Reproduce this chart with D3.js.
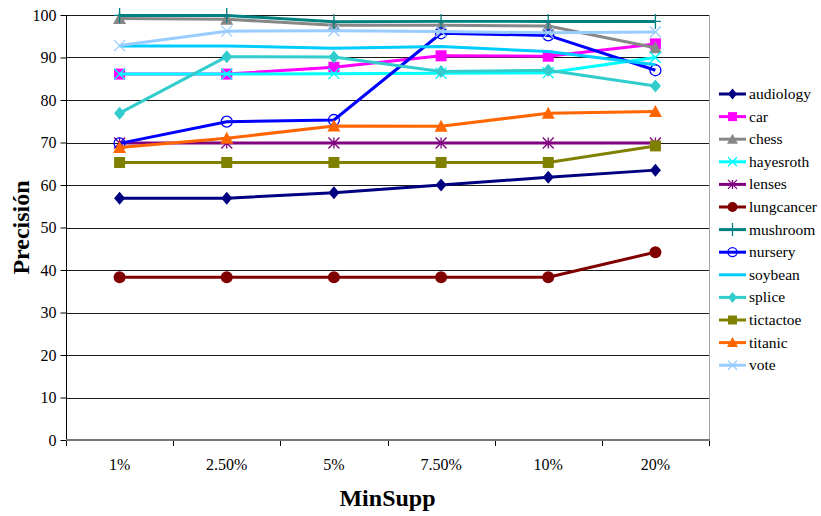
<!DOCTYPE html>
<html>
<head>
<meta charset="utf-8">
<script src="https://cdn.jsdelivr.net/npm/d3@7"></script>
<style>
  html, body { margin: 0; padding: 0; background: #fff; }
  svg { display: block; }
  text { font-family: "Liberation Serif", "Times New Roman", serif; fill: #000; }
</style>
</head>
<body>
<svg id="chart" width="821" height="516"></svg>
<script>
// Minimum support levels on the x axis
const categories = ["1%", "2.50%", "5%", "7.50%", "10%", "20%"];
const yTicks = [0, 10, 20, 30, 40, 50, 60, 70, 80, 90, 100];

// Precision per dataset
const audiology  = [56.9, 56.9, 58.2, 60.0, 61.8, 63.5];
const car        = [86.1, 86.1, 87.7, 90.4, 90.3, 93.2];
const chess      = [99.2, 99.0, 97.6, 97.6, 97.4, 92.3];
const hayesroth  = [86.1, 86.1, 86.2, 86.3, 86.4, 90.0];
const lenses     = [69.9, 69.9, 69.9, 69.9, 69.9, 69.9];
const lungcancer = [38.3, 38.3, 38.3, 38.3, 38.3, 44.2];
const mushroom   = [99.9, 99.9, 98.4, 98.5, 98.5, 98.5];
const nursery    = [69.8, 74.9, 75.3, 95.7, 95.2, 87.0];
const soybean    = [92.7, 92.7, 92.2, 92.6, 91.4, 88.3];
const splice     = [76.9, 90.2, 90.1, 86.7, 87.0, 83.3];
const tictactoe  = [65.3, 65.3, 65.3, 65.3, 65.3, 69.2];
const titanic    = [68.8, 71.0, 73.9, 73.8, 76.9, 77.3];
const vote       = [92.8, 96.2, 96.3, 96.1, 95.8, 96.0];

const seriesNames = ["audiology", "car", "chess", "hayesroth", "lenses", "lungcancer",
  "mushroom", "nursery", "soybean", "splice", "tictactoe", "titanic", "vote"];
const seriesValues = [audiology, car, chess, hayesroth, lenses, lungcancer,
  mushroom, nursery, soybean, splice, tictactoe, titanic, vote];
const seriesColors = ["#000080", "#ff00ff", "#878787", "#00ffff", "#800080", "#800000",
  "#008080", "#0000ff", "#00ccff", "#33cccc", "#808000", "#ff6600", "#99ccff"];
const seriesMarkers = ["diamond", "square", "triangle", "cross", "star", "dot",
  "plus", "ring", "none", "diamond", "square", "triangle", "cross"];

const series = seriesNames.map((name, i) => ({
  name, values: seriesValues[i], color: seriesColors[i], marker: seriesMarkers[i]
}));

const svg = d3.select("#chart");
const plot = { left: 66, right: 709, top: 15, bottom: 440 };

const x = d3.scaleBand().domain(categories).range([plot.left, plot.right]).padding(0);
const y = d3.scaleLinear().domain([0, 100]).range([plot.bottom, plot.top]);
const cx = c => x(c) + x.bandwidth() / 2;

// Horizontal gridlines
svg.append("g")
  .selectAll("line")
  .data(yTicks.filter(t => t > 0))
  .join("line")
  .attr("x1", plot.left).attr("x2", plot.right)
  .attr("y1", d => Math.round(y(d)) + 0.5).attr("y2", d => Math.round(y(d)) + 0.5)
  .attr("stroke", "#1a1a1a").attr("stroke-width", 1);

// Right border of the plot area
svg.append("line")
  .attr("x1", plot.right + 0.5).attr("x2", plot.right + 0.5)
  .attr("y1", plot.top).attr("y2", plot.bottom)
  .attr("stroke", "#a0a0a0").attr("stroke-width", 1);

// Y axis
const yAxis = svg.append("g")
  .attr("transform", `translate(${plot.left + 0.5},0)`)
  .call(d3.axisLeft(y).tickValues(yTicks).tickSize(6).tickPadding(4).tickFormat(d3.format("d")));
yAxis.select(".domain").attr("stroke", "#000").attr("d", `M0,${plot.top}V${plot.bottom}`);
yAxis.selectAll(".tick line").attr("stroke", "#000");
yAxis.selectAll(".tick text")
  .attr("font-family", "Liberation Serif, serif").attr("font-size", 16).attr("fill", "#000");

// X axis: tick marks on category boundaries
const xAxis = svg.append("g").attr("transform", `translate(0,${plot.bottom})`);
const boundaries = categories.map(c => x(c)).concat([plot.right]);
xAxis.selectAll("line.tk")
  .data(boundaries)
  .join("line")
  .attr("class", "tk")
  .attr("x1", d => Math.round(d) + 0.5).attr("x2", d => Math.round(d) + 0.5)
  .attr("y1", 0).attr("y2", 6)
  .attr("stroke", "#000").attr("stroke-width", 1);
xAxis.append("line")
  .attr("x1", plot.left).attr("x2", plot.right + 1)
  .attr("y1", 0).attr("y2", 0)
  .attr("stroke", "#777").attr("stroke-width", 2);
xAxis.selectAll("text")
  .data(categories)
  .join("text")
  .attr("x", d => cx(d)).attr("y", 30)
  .attr("text-anchor", "middle")
  .attr("font-size", 16)
  .text(d => d);

// Marker drawing
function drawMarker(g, type, color, s) {
  const h = s / 2;
  switch (type) {
    case "diamond":
      g.append("path").attr("d", `M0,${-h - 1}L${h},0L0,${h + 1}L${-h},0Z`).attr("fill", color);
      break;
    case "square":
      g.append("rect").attr("x", -h).attr("y", -h).attr("width", s).attr("height", s).attr("fill", color);
      break;
    case "triangle":
      g.append("path").attr("d", `M0,${-h - 1}L${h + 1},${h}L${-h - 1},${h}Z`).attr("fill", color);
      break;
    case "dot":
      g.append("circle").attr("r", h + 0.5).attr("fill", color);
      break;
    case "ring":
      g.append("circle").attr("r", h).attr("fill", "none").attr("stroke", color).attr("stroke-width", 1.3);
      break;
    case "cross":
      g.append("path").attr("d", `M${-h},${-h}L${h},${h}M${-h},${h}L${h},${-h}`)
        .attr("stroke", color).attr("stroke-width", 1.3).attr("fill", "none");
      break;
    case "star":
      g.append("path").attr("d", `M${-h},${-h}L${h},${h}M${-h},${h}L${h},${-h}M0,${-h}V${h}`)
        .attr("stroke", color).attr("stroke-width", 1.3).attr("fill", "none");
      break;
    case "plus":
      g.append("path").attr("d", `M0,${-h - 2}V${h + 2}M${-h},0H${h}`)
        .attr("stroke", color).attr("stroke-width", 1.3).attr("fill", "none");
      break;
  }
}

const line = d3.line().x((d, i) => cx(categories[i])).y(d => y(d));

// Series lines and markers
const gSeries = svg.append("g");
series.forEach(s => {
  const g = gSeries.append("g");
  g.append("path")
    .attr("d", line(s.values))
    .attr("fill", "none")
    .attr("stroke", s.color)
    .attr("stroke-width", 3)
    .attr("stroke-linejoin", "round");
  if (s.marker !== "none") {
    s.values.forEach((v, i) => {
      const mg = g.append("g").attr("transform", `translate(${cx(categories[i])},${y(v)})`);
      drawMarker(mg, s.marker, s.color, 11);
    });
  }
});

// Legend
const legend = svg.append("g");
series.forEach((s, i) => {
  const ly = 94 + i * 22.6;
  const g = legend.append("g").attr("transform", `translate(0,${ly})`);
  g.append("line").attr("x1", 719).attr("x2", 746).attr("y1", 0).attr("y2", 0)
    .attr("stroke", s.color).attr("stroke-width", 3);
  if (s.marker !== "none") {
    const mg = g.append("g").attr("transform", "translate(732.5,0)");
    drawMarker(mg, s.marker, s.color, 9);
  }
  g.append("text").attr("x", 749).attr("y", 5).attr("font-size", 15.5).text(s.name);
});

// Axis titles
svg.append("text")
  .attr("transform", `translate(29,${(plot.top + plot.bottom) / 2}) rotate(-90)`)
  .attr("text-anchor", "middle")
  .attr("font-size", 24).attr("font-weight", "bold")
  .text("Precisión");

svg.append("text")
  .attr("x", (plot.left + plot.right) / 2).attr("y", 506)
  .attr("text-anchor", "middle")
  .attr("font-size", 24).attr("font-weight", "bold")
  .text("MinSupp");
</script>
</body>
</html>
